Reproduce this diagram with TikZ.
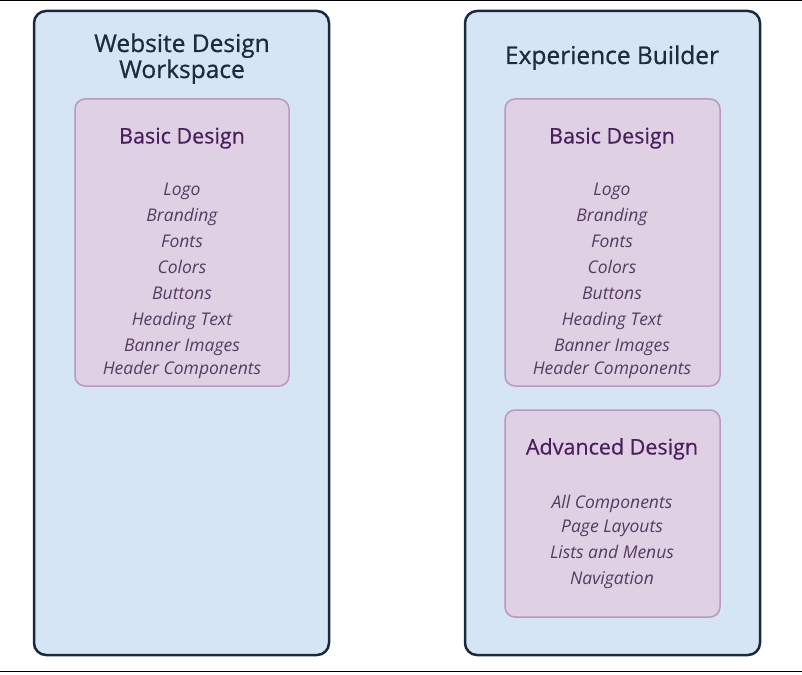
\documentclass[tikz,border=0pt]{standalone}
\usepackage{fontspec}
\setmainfont{Open Sans}
\definecolor{outf}{HTML}{D5E5F4}
\definecolor{outd}{HTML}{1A2A3E}
\definecolor{inf}{HTML}{DFD0E3}
\definecolor{ind}{HTML}{B997C6}
\definecolor{ttl}{HTML}{1C2B3D}
\definecolor{ittl}{HTML}{4B1F5E}
\definecolor{itm}{HTML}{533D60}
\begin{document}
\begin{tikzpicture}[x=1pt,y=-1pt,
 outer/.style={draw=outd,fill=outf,line width=2.5pt,rounded corners=12pt},
 inner/.style={draw=ind,fill=inf,line width=1.5pt,rounded corners=10pt},
 ttlt/.style={text=ttl,font=\fontsize{24.5}{28}\selectfont\addfontfeature{FakeBold=0.8},align=center,text height=17pt,text depth=5pt},
 ittlt/.style={text=ittl,font=\fontsize{21.5}{24}\selectfont\addfontfeature{FakeBold=0.5},text height=15pt,text depth=4pt},
 itmt/.style={text=itm,font=\itshape\fontsize{17.5}{20}\selectfont,text height=12pt,text depth=3pt}]
\useasboundingbox (0,0) rectangle (802,674);
\draw[line width=1pt] (0,1) -- (802,1);
\draw[line width=1pt] (0,671) -- (802,671);
\draw[outer] (34,11) rectangle (329,655);
\draw[outer] (465,11) rectangle (760,655);
\draw[inner] (75,99) rectangle (289,386);
\draw[inner] (505,99) rectangle (720,386);
\draw[inner] (505,410) rectangle (720,617);
\node[ttlt] (t1) at (182,46) {Website Design};
\node[ttlt] (t1b) at (182,72) {Workspace};
\node[ttlt] (t2) at (612,58) {Experience Builder};
\foreach \cx/\n in {182/a,612/b}{
 \node[ittlt] (bd\n) at (\cx,138) {Basic Design};
 \foreach \y/\t [count=\i] in {190/Logo,216/Branding,242/Fonts,268/Colors,294/Buttons,320/Heading Text,346/Banner Images,369/Header Components}
  \node[itmt] (i\n\i) at (\cx,\y+1) {\t};
}
\node[ittlt] (ad) at (612,449) {Advanced Design};
\foreach \y/\t [count=\i] in {503/All Components,527/Page Layouts,553/Lists and Menus,579/Navigation}
 \node[itmt] (ac\i) at (612,\y+1) {\t};
\end{tikzpicture}
\end{document}
